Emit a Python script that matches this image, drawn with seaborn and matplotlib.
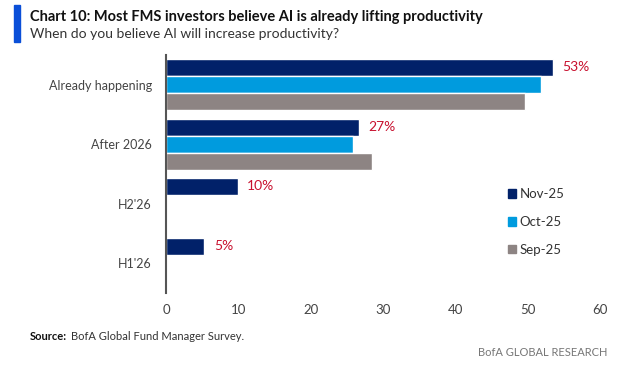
import numpy as np
import pandas as pd
import matplotlib
matplotlib.use('Agg')
import matplotlib.pyplot as plt
import seaborn as sns

# Data
categories = ['Already happening', 'After 2026', "H2'26", "H1'26"]
nov_25 = [53.5, 26.7, 9.9, 5.3]
oct_25 = [51.9, 25.9, np.nan, np.nan]
sep_25 = [49.7, 28.5, np.nan, np.nan]
series_names = ['Nov-25', 'Oct-25', 'Sep-25']
nov_labels = ['53%', '27%', '10%', '5%']
x_ticks = [0, 10, 20, 30, 40, 50, 60]

colors = ['#012169', '#009bde', '#8d8483']
label_red = '#c8102e'

sns.set_style('white')
plt.rcParams['font.family'] = ['Lato', 'DejaVu Sans']

df = pd.DataFrame({
    'category': categories * 3,
    'series': [series_names[0]] * 4 + [series_names[1]] * 4 + [series_names[2]] * 4,
    'value': nov_25 + oct_25 + sep_25,
})

fig = plt.figure(figsize=(6.18, 3.67), dpi=100)
ax = fig.add_axes([166 / 618, 1 - 293 / 367, (600 - 166) / 618, (293 - 55) / 367])

sns.barplot(data=df, x='value', y='category', hue='series', order=categories,
            hue_order=series_names, palette=colors, width=0.86, orient='h',
            saturation=1, ax=ax, legend=False)

# Value labels for the latest survey
for i, (v, lab) in enumerate(zip(nov_25, nov_labels)):
    ax.text(v + 1.3, i - 0.29, lab, color=label_red, fontsize=10, va='center', ha='left')

ax.set_xlim(0, 60)
ax.set_ylim(3.5, -0.5)
ax.set_xticks(x_ticks)
ax.set_xlabel('')
ax.set_ylabel('')
ax.tick_params(axis='x', colors='#444444', labelsize=9.5, length=0, pad=8)
ax.tick_params(axis='y', colors='#444444', labelsize=9, length=0, pad=10)
for s in ['top', 'right', 'bottom']:
    ax.spines[s].set_visible(False)
ax.spines['left'].set_color('#555555')
ax.spines['left'].set_linewidth(1.5)

# Legend
handles = [plt.Rectangle((0, 0), 1, 1, color=c) for c in colors]
ax.legend(handles, series_names, loc='upper left', bbox_to_anchor=(0.76, 0.49),
          frameon=False, fontsize=9.5, handlelength=0.6, handleheight=0.6,
          handletextpad=0.3, labelspacing=1.2, labelcolor='#333333')

# Titles and notes
fig.patches.append(plt.Rectangle((14 / 618, 1 - 42 / 367), 6 / 618, 37 / 367,
                                 transform=fig.transFigure, color='#0a4fd8'))
fig.text(30 / 618, 1 - 17 / 367, 'Chart 10: Most FMS investors believe AI is already lifting productivity',
         fontsize=10.5, fontweight='bold', color='#111111', va='center')
fig.text(30 / 618, 1 - 34 / 367, 'When do you believe AI will increase productivity?',
         fontsize=10, color='#333333', va='center')
src = fig.text(30 / 618, 1 - 337 / 367, 'Source:', fontsize=8, fontweight='bold',
               color='#111111', va='center')
fig.add_artist(matplotlib.text.Annotation('BofA Global Fund Manager Survey.', xy=(1, 0.5),
                                          xycoords=src, xytext=(3, 0), textcoords='offset points',
                                          fontsize=8, color='#333333', va='center'))
fig.text(607 / 618, 1 - 352 / 367, 'BofA GLOBAL RESEARCH', fontsize=8,
         color='#777777', va='center', ha='right')

plt.savefig('out.png', dpi=100)
